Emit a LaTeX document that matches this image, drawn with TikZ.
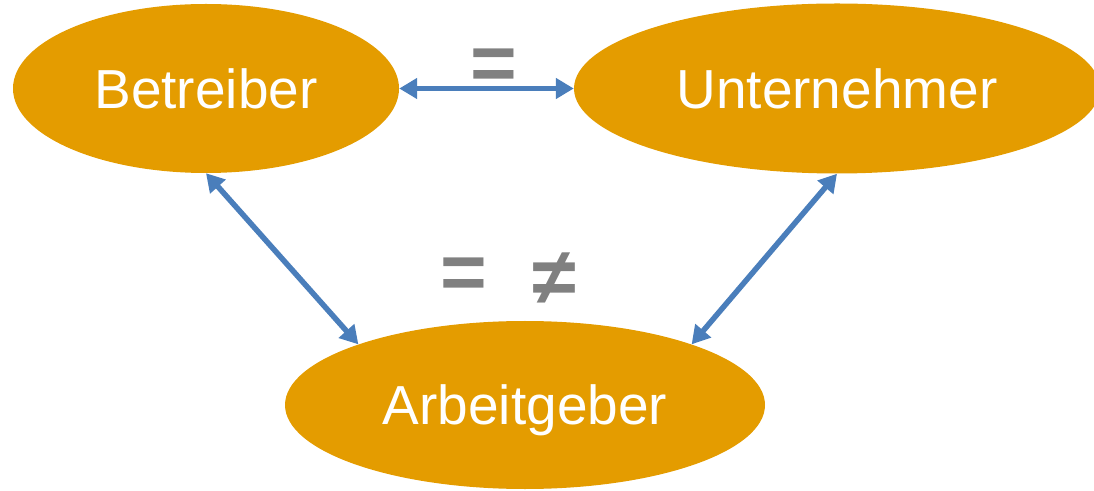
\documentclass[tikz,border=0pt]{standalone}
\usepackage{fontspec}
\setmainfont{Liberation Sans}
\usetikzlibrary{shapes.geometric,arrows.meta}
\definecolor{rolle}{HTML}{E49C00}
\definecolor{pfeil}{HTML}{4A7EBB}
\definecolor{zeichen}{HTML}{808080}
\begin{document}
\begin{tikzpicture}[x=1pt,y=1pt,
  rollenode/.style={ellipse,fill=rolle,text=white,inner sep=0pt,text depth=0pt,
    font=\fontsize{55}{60}\selectfont},
  beziehung/.style={draw=pfeil,line width=5.5pt,
    {Triangle[length=18pt,width=20pt]}-{Triangle[length=18pt,width=20pt]}},
  vergleich/.style={text=zeichen,inner sep=0pt,font=\fontsize{80}{90}\selectfont\bfseries}]
\useasboundingbox (0,0) rectangle (1094,490);
\node[rollenode,minimum width=386pt,minimum height=169pt] (betr) at (206,401.5) {Betreiber};
\node[rollenode,minimum width=526pt,minimum height=170pt] (unt) at (837,401.5) {Unternehmer};
\node[rollenode,minimum width=480pt,minimum height=168pt] (arb) at (525,85) {Arbeitgeber};
\draw[beziehung] (betr.east) -- (unt.west);
\draw[beziehung] (betr.south) -- (arb.160);
\draw[beziehung] (unt.south) -- (arb.20);
\node[vergleich] (gleich) at (494,420) {=};
\node[vergleich] (gleich2) at (464,211) {=};
\node[vergleich] (ungleich) at (554,211) {≠};
\end{tikzpicture}
\end{document}
